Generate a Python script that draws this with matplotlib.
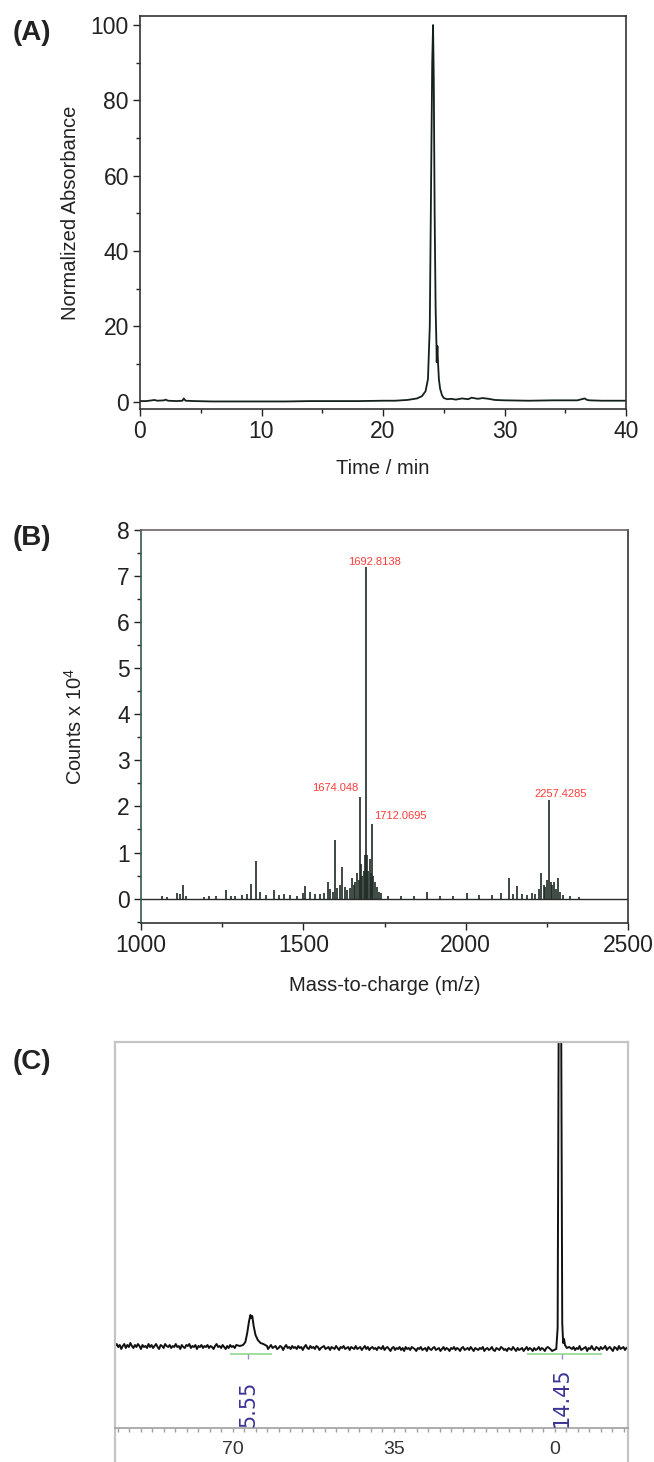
import numpy as np
import matplotlib
matplotlib.use("Agg")
import matplotlib.pyplot as plt
from matplotlib.ticker import MultipleLocator

plt.rcParams["font.family"] = ["Liberation Sans", "DejaVu Sans"]
plt.rcParams["mathtext.fontset"] = "custom"
plt.rcParams["mathtext.rm"] = "Liberation Sans"
plt.rcParams["mathtext.it"] = "Liberation Sans:italic"

## (A) HPLC trace
a_time = [0, 0.5, 1.0, 1.2, 1.4, 2.0, 2.1, 2.3, 3.0, 3.5, 3.6, 3.75, 4.5, 6, 8,
          10, 12, 14, 16, 18, 20, 21, 22, 22.8, 23.2, 23.5, 23.7, 23.85, 23.95, 24.05,
          24.12, 24.18, 24.25, 24.33, 24.4, 24.42, 24.48, 24.52, 24.6, 24.7,
          24.85, 25.0, 25.3, 25.6, 26.0, 26.5, 27.0, 27.3, 27.8, 28.2,
          28.7, 29.2, 30, 32, 34, 36, 36.6, 36.8, 37.0, 38, 40]
a_abs = [0.2, 0.2, 0.4, 0.5, 0.3, 0.4, 0.6, 0.3, 0.2, 0.3, 0.9, 0.3, 0.2, 0.1, 0.1,
         0.1, 0.1, 0.2, 0.2, 0.2, 0.3, 0.3, 0.5, 0.9, 1.5, 2.8, 6, 20, 55, 90,
         100, 85, 50, 25, 15, 10.5, 14.8, 11, 6, 3.5,
         1.8, 1.0, 0.7, 0.8, 0.6, 0.9, 0.7, 1.1, 0.8, 1.0,
         0.8, 0.5, 0.4, 0.3, 0.4, 0.4, 0.9, 0.5, 0.4, 0.3, 0.3]

## (B) mass spectrum sticks
b_mz = [1065, 1080, 1110, 1120, 1130, 1140, 1195, 1210, 1230, 1262,
        1276, 1290, 1310, 1325, 1340, 1354, 1368, 1385, 1410, 1425,
        1440, 1460, 1480, 1500, 1505, 1520, 1535, 1550, 1565, 1575,
        1581, 1590, 1599, 1605, 1612, 1620, 1628, 1636, 1644, 1650,
        1655, 1660, 1665, 1670, 1674, 1678, 1682, 1686, 1689, 1693,
        1697, 1700, 1704, 1708, 1712, 1716, 1720, 1726, 1732, 1740,
        1760, 1800, 1840, 1880, 1920, 1960, 2005, 2040, 2080, 2110,
        2132, 2145, 2157, 2175, 2190, 2205, 2215, 2225, 2232, 2240,
        2245, 2250, 2257, 2262, 2267, 2272, 2278, 2285, 2292, 2300,
        2320, 2350]
b_int = [0.06, 0.04, 0.12, 0.1, 0.3, 0.05, 0.04, 0.05, 0.06, 0.18,
         0.05, 0.06, 0.07, 0.1, 0.32, 0.82, 0.14, 0.08, 0.18, 0.08,
         0.1, 0.07, 0.06, 0.12, 0.27, 0.14, 0.1, 0.09, 0.12, 0.35,
         0.2, 0.15, 1.27, 0.22, 0.3, 0.68, 0.25, 0.18, 0.22, 0.45,
         0.3, 0.35, 0.55, 0.4, 2.2, 0.75, 0.5, 0.6, 0.95, 7.2,
         0.95, 0.6, 0.85, 0.55, 1.62, 0.5, 0.35, 0.25, 0.15, 0.12,
         0.06, 0.06, 0.05, 0.15, 0.06, 0.05, 0.12, 0.08, 0.07, 0.12,
         0.45, 0.1, 0.28, 0.1, 0.08, 0.12, 0.1, 0.2, 0.55, 0.3,
         0.25, 0.4, 2.13, 0.35, 0.3, 0.35, 0.2, 0.45, 0.15, 0.08,
         0.05, 0.03]
b_label_mz = [1692.8138, 1674.048, 1712.0695, 2257.4285]
b_label_int = [7.2, 2.2, 1.62, 2.13]
b_label_text = ["1692.8138", "1674.048", "1712.0695", "2257.4285"]

## (C) NMR spectrum (baseline wiggle, left to right)
c_noise = [2, 4, 1, 3, -1, 2, 4, 0, 3, 1, 5, 2, 0, 3, 1, 4, 2, -1, 3, 1,
           2, 0, 4, 1, 3, 0, 2, 4, 1, -1, 3, 2, 0, 4, 2, 1, 3, 0, 2, 1,
           4, 1, 2, -1, 3, 1, 0, 3, 2, 4, 0, 2, 1, 3, -1, 2, 1, 3, 0, 2,
           1, 3, 0, 2, 1, -1, 2, 4, 1, 2, 0, 3, 1, -1, 2, 0, 3, 1, 2, 0,
           3, 1, -1, 2, 0, 3, 1, 2, -1, 1, 3, 0, 2, 1, -1, 3, 0, 2, 1, 0,
           2, -1, 1, 3, 0, 1, 2, -1, 0, 2, 1, -2, 1, 3, 0, 1, -1, 2, 0, 1,
           -1, 2, 0, 1, -2, 1, 3, 0, -1, 2, 0, 1, -1, 2, 1, -2, 0, 1, 2, -1,
           0, 1, -2, 1, 0, -1, 2, 0, -2, 1, 0, 2, -1, 0, 1, -2, 1, 0, -1, 2,
           -1, 0, 1, -2, 0, 2, -1, 1, -2, 0, 1, -1, 0, -2, 1, 0, -1, 2, -2, 0,
           1, -1, -3, 0, 1, -2, 0, -1, 1, -2, 0, -3, 1, -1, 0, -2, 1, 0, -1, -3,
           0, -1, 1, -2, -1, 0, -3, 1, -1, -2, 0, 1, -2, -1, 0, -3, -1, 1, -2, 0,
           -1, -3, 0, -1, 1, -2, 0, -1, -3, 0, 1, -2, -1, 0, -2, 1, -1, -3, 0, -1,
           -2, 0, -1, 1, -3, -1, 0, -2, -1, 1, -2, -3, 0, -1, -2, 1, 0, -2, -1, -3,
           0, -1, -2, 1, -1, -3, 0, -2, -1, 0, -3, -1, 1, -2, 0, -1, -3, 0, -2, -1,
           1, -2, 0, -1, -3, 0, 1, -2, -1, 0, -2, 1, -1, -3, 0, -1, 2, -2, 0, -1,
           -3, 0, -1, 1, -2, 0, -1, 2, -2, -1, 0, 1, -3, 0, -1, 2, -1, -2, 1, 0,
           -2, 1, -1, 0, 2, -2, 0, 1, -1, -3, 1, 0, -2, 2, -1, 0, 1, -2, 0, 1]
c_peak1_ppm = [68.5, 67.8, 67.3, 66.9, 66.5, 66.2, 66.0, 65.8, 65.5, 65.1, 64.6, 64.0, 63.4, 62.6]
c_peak1_int = [2, 3, 6, 15, 27, 33, 30, 32, 22, 13, 8, 5, 4, 2]
c_peak2_ppm = [1.0, 0.6, 0.2, -0.3, -0.6, -0.9, -1.3, -1.6, -1.8, -2.0, -2.2, -2.6, -3.1]
c_peak2_int = [-1, -3, -2, -1, 20, 420, 420, 25, 5, 9, 3, 0, 1]
c_label_ppm = [66.7, -1.5]
c_label_text = ["5.55", "14.45"]
c_integral_from = [70.6, 6.0]
c_integral_to = [61.6, -10.3]

W, H = 654, 1462
fig = plt.figure(figsize=(W / 100, H / 100), dpi=100)
fig.patch.set_facecolor("white")


def px_axes(left, top, right, bottom):
    return fig.add_axes([left / W, 1 - bottom / H, (right - left) / W, (bottom - top) / H])


def style_axes(ax, color="#333333"):
    for s in ax.spines.values():
        s.set_color(color)
        s.set_linewidth(1.2)
    ax.tick_params(which="major", direction="out", length=5, width=1,
                   labelsize=16.5, pad=3, colors="#222222")
    ax.tick_params(which="minor", direction="out", length=3, width=1, colors="#222222")


# ---- panel A
axA = px_axes(140, 16, 626, 409)
axA.plot(a_time, a_abs, color="#14201a", lw=1.3)
axA.set_xlim(0, 40)
axA.set_ylim(-1.9, 102.4)
axA.set_xticks([0, 10, 20, 30, 40])
axA.set_yticks(range(0, 101, 20))
axA.xaxis.set_minor_locator(MultipleLocator(5))
axA.yaxis.set_minor_locator(MultipleLocator(10))
style_axes(axA)
axA.set_xlabel("Time / min", fontsize=14.5, color="#222222")
axA.set_ylabel("Normalized Absorbance", fontsize=14.5, color="#222222")
axA.xaxis.set_label_coords(0.5, -0.127)
axA.yaxis.set_label_coords(-0.123, 0.5)
fig.text(13 / W, 1 - 33 / H, "(A)", fontsize=20, fontweight="bold", va="center", color="#222222")

# ---- panel B
axB = px_axes(141, 530, 628, 923)
axB.axhline(0, color="#2a2a2a", lw=1.0)
axB.vlines(b_mz, 0, b_int, color="#1e2a24", lw=1.2)
axB.set_xlim(1000, 2500)
axB.set_ylim(-0.53, 8)
axB.set_xticks([1000, 1500, 2000, 2500])
axB.set_yticks(range(0, 9))
axB.xaxis.set_minor_locator(MultipleLocator(250))
axB.yaxis.set_minor_locator(MultipleLocator(0.5))
style_axes(axB)
axB.spines["left"].set_color("#2e5e46")
axB.spines["top"].set_color("#6e6262")
axB.set_xlabel("Mass-to-charge (m/z)", fontsize=14.5, color="#222222")
axB.set_ylabel("Counts x 10$^4$", fontsize=14.5, color="#222222")
axB.xaxis.set_label_coords(0.5, -0.135)
axB.yaxis.set_label_coords(-0.113, 0.5)
label_offsets = [(6.5, 3.5), (-18, 6.5), (20, 6), (8, 5)]
for mz, val, txt, off in zip(b_label_mz, b_label_int, b_label_text, label_offsets):
    axB.annotate(txt, (mz, val), xytext=off, textcoords="offset points",
                 ha="center", va="center", fontsize=8, color="#ff3b3b")
fig.text(13 / W, 1 - 538 / H, "(B)", fontsize=20, fontweight="bold", va="center", color="#222222")

# ---- panel C
axC = px_axes(115, 1042, 628, 1462)
grid = np.linspace(95.6, -15.9, len(c_noise))
noise = np.array(c_noise, dtype=float)
keep = ~(((grid < 69) & (grid > 62.5)) | ((grid < 1.3) & (grid > -3.4)))
ppm = np.concatenate([grid[keep], c_peak1_ppm, c_peak2_ppm])
inten = np.concatenate([noise[keep], c_peak1_int, c_peak2_int])
order = np.argsort(ppm)
axC.plot(ppm[order], inten[order], color="#111111", lw=1.4)
axC.set_xlim(95.65, -15.9)
axC.set_ylim(-114, 306)
axC.set_yticks([])
axC.set_xticks([70, 35, 0])
axC.xaxis.set_minor_locator(MultipleLocator(2.5))
for side in ["top", "left", "right"]:
    axC.spines[side].set_color("#c4c4c4")
    axC.spines[side].set_linewidth(1.6)
axC.spines["bottom"].set_position(("data", -80))
axC.spines["bottom"].set_color("#a0a0a0")
axC.spines["bottom"].set_linewidth(1.2)
axC.tick_params(which="both", direction="out", length=3, width=1, colors="#a0a0a0")
axC.tick_params(which="major", labelsize=14, labelcolor="#333333", pad=6)
axC.hlines([-6] * len(c_integral_from), c_integral_from, c_integral_to, color="#90d890", lw=1.2)
axC.vlines(c_label_ppm, -6, -11, color="#9090d0", lw=1)
for p, txt in zip(c_label_ppm, c_label_text):
    axC.text(p, -79, txt, rotation=90, ha="center", va="bottom", fontsize=15,
             color="#3a3396", family="DejaVu Sans")
fig.text(13 / W, 1 - 1062 / H, "(C)", fontsize=20, fontweight="bold", va="center", color="#222222")

fig.savefig("out.png", dpi=100, facecolor="white")
